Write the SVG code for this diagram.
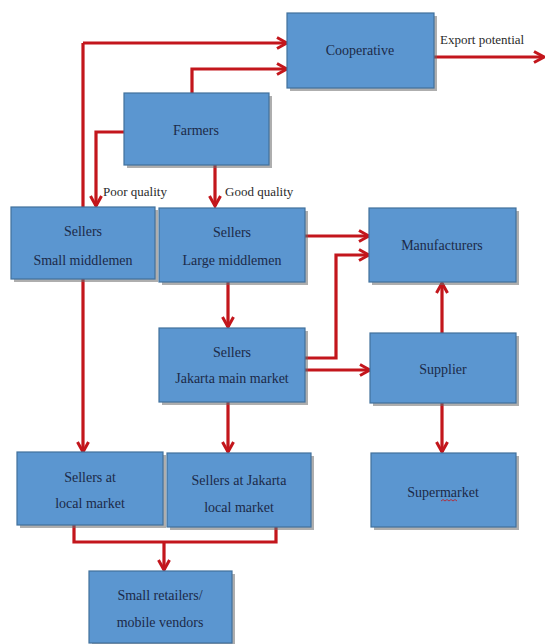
<svg xmlns="http://www.w3.org/2000/svg" width="545" height="644" viewBox="0 0 545 644">
<defs>
<marker id="ah" markerUnits="userSpaceOnUse" viewBox="0 0 14 14" markerWidth="14" markerHeight="14" refX="12" refY="7" orient="auto">
<path d="M2,1.5 L12,7 L2,12.5" fill="none" stroke="#c3161c" stroke-width="3"/>
</marker>
</defs>
<style>
.c{fill:none;stroke:#c3161c;stroke-width:3.2}
.a{marker-end:url(#ah)}
.sh{fill:#6b6b6b;opacity:0.55}
.b{fill:#5b96d0;stroke:#41719c;stroke-width:1.2}
.t{font-size:14px;fill:#1b2a48;text-anchor:middle}
.l{font-size:13px;fill:#2a2a2a}
</style>
<rect width="545" height="644" fill="#ffffff"/>
<g font-family="Liberation Serif, serif">
<g id="connectors">
<path class="c a" d="M83,43 H287"/>
<path class="c a" d="M83,43 V452"/>
<path class="c a" d="M192,93 V69 H287"/>
<path class="c a" d="M124,132 H96 V206"/>
<path class="c a" d="M215,165 V206"/>
<path class="c a" d="M305,236 H369"/>
<path class="c a" d="M305,358 H336 V255 H369"/>
<path class="c a" d="M305,370 H370"/>
<path class="c a" d="M228,282 V327"/>
<path class="c a" d="M442,333 V283"/>
<path class="c a" d="M228,402 V452"/>
<path class="c a" d="M442,403 V452"/>
<path class="c" d="M74,525 V542 H276 V527"/>
<path class="c a" d="M164,542 V570"/>
<path class="c a" d="M434,57 H544"/>
<text class="l" x="440" y="44">Export potential</text>
<text class="l" x="103" y="196">Poor quality</text>
<text class="l" x="225" y="196">Good quality</text>
</g>
<g id="cooperative">
<rect class="sh" x="290" y="16" width="147" height="75"/>
<rect class="b" x="287" y="13" width="147" height="75"/>
<text class="t" x="360" y="55">Cooperative</text>
</g>
<g id="farmers">
<rect class="sh" x="127" y="96" width="145" height="72"/>
<rect class="b" x="124" y="93" width="145" height="72"/>
<text class="t" x="196" y="135">Farmers</text>
</g>
<g id="small-middlemen">
<rect class="sh" x="14" y="210" width="144" height="72"/>
<rect class="b" x="11" y="207" width="144" height="72"/>
<text class="t" x="83" y="236">Sellers</text>
<text class="t" x="83" y="265">Small middlemen</text>
</g>
<g id="large-middlemen">
<rect class="sh" x="162" y="211" width="146" height="74"/>
<rect class="b" x="159" y="208" width="146" height="74"/>
<text class="t" x="232" y="237">Sellers</text>
<text class="t" x="232" y="265">Large middlemen</text>
</g>
<g id="manufacturers">
<rect class="sh" x="372" y="211" width="147" height="74"/>
<rect class="b" x="369" y="208" width="147" height="74"/>
<text class="t" x="442" y="250">Manufacturers</text>
</g>
<g id="jakarta-main">
<rect class="sh" x="162" y="331" width="146" height="74"/>
<rect class="b" x="159" y="328" width="146" height="74"/>
<text class="t" x="232" y="357">Sellers</text>
<text class="t" x="232" y="383">Jakarta main market</text>
</g>
<g id="supplier">
<rect class="sh" x="373" y="336" width="146" height="70"/>
<rect class="b" x="370" y="333" width="146" height="70"/>
<text class="t" x="443" y="374">Supplier</text>
</g>
<g id="local-market">
<rect class="sh" x="20" y="455" width="146" height="73"/>
<rect class="b" x="17" y="452" width="146" height="73"/>
<text class="t" x="90" y="482">Sellers at</text>
<text class="t" x="90" y="508">local market</text>
</g>
<g id="jakarta-local">
<rect class="sh" x="170" y="456" width="144" height="74"/>
<rect class="b" x="167" y="453" width="144" height="74"/>
<text class="t" x="239" y="485">Sellers at Jakarta</text>
<text class="t" x="239" y="512">local market</text>
</g>
<g id="supermarket">
<rect class="sh" x="374" y="456" width="145" height="74"/>
<rect class="b" x="371" y="453" width="145" height="74"/>
<text class="t" x="443" y="497">Supermarket</text>
<path d="M441,501 l2,-1.5 l2,1.5 l2,-1.5 l2,1.5 l2,-1.5 l2,1.5 l2,-1.5 l2,1.5" fill="none" stroke="#c3161c" stroke-width="0.8"/>
</g>
<g id="small-retailers">
<rect class="sh" x="92" y="574" width="143" height="72"/>
<rect class="b" x="89" y="571" width="143" height="72"/>
<text class="t" x="160" y="600">Small retailers/</text>
<text class="t" x="160" y="627">mobile vendors</text>
</g>
</g>
</svg>
